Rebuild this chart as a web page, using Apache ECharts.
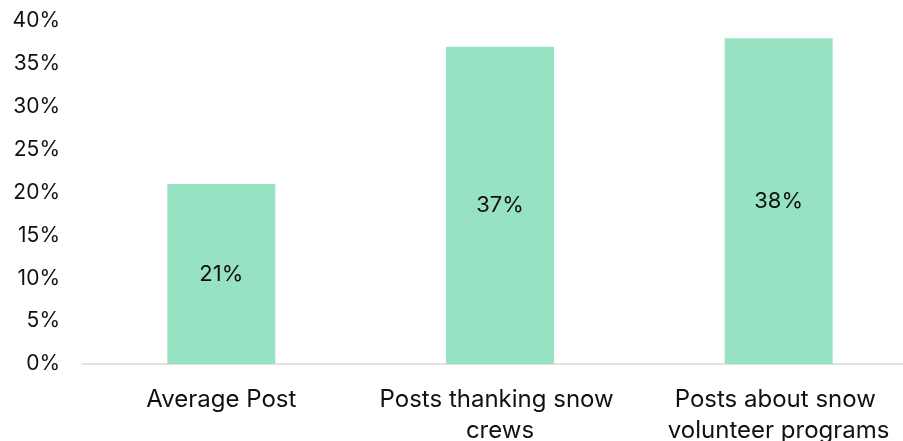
<!DOCTYPE html>
<html><head><meta charset="utf-8">
<script src="https://cdn.jsdelivr.net/npm/echarts@6/dist/echarts.min.js"></script>
<style>html,body{margin:0;padding:0;background:#fff}#c{width:903px;height:441px}</style>
</head><body><div id="c"></div>
<script>
const categories = ["Average Post", "Posts thanking snow crews", "Posts about snow volunteer programs"];
const values = [21, 37, 38];
const yTicks = [0, 5, 10, 15, 20, 25, 30, 35, 40];

const chart = echarts.init(document.getElementById('c'));
chart.setOption({
  animation: false,
  grid: { left: 82, width: 836, top: 21, height: 343, containLabel: false, outerBoundsMode: 'none' },
  xAxis: {
    type: 'category', data: categories,
    axisLine: { lineStyle: { color: '#d9d9d9', width: 1.5 } },
    axisTick: { show: false },
    axisLabel: { color: '#111', fontSize: 24, fontFamily: 'Inter', margin: 20, lineHeight: 31, width: 260, overflow: 'break', interval: 0 }
  },
  yAxis: {
    type: 'value', min: yTicks[0], max: yTicks[yTicks.length - 1], interval: 5,
    splitLine: { show: false }, axisLine: { show: false }, axisTick: { show: false },
    axisLabel: { color: '#111', fontSize: 21, fontFamily: 'Inter', margin: 22, formatter: v => v + '%' }
  },
  series: [{
    type: 'bar', data: values, barWidth: 108,
    itemStyle: { color: '#98E2C4' },
    label: { show: true, position: 'inside', color: '#111', fontSize: 22, fontFamily: 'Inter', formatter: p => p.value + '%' }
  }]
});
</script></body></html>
